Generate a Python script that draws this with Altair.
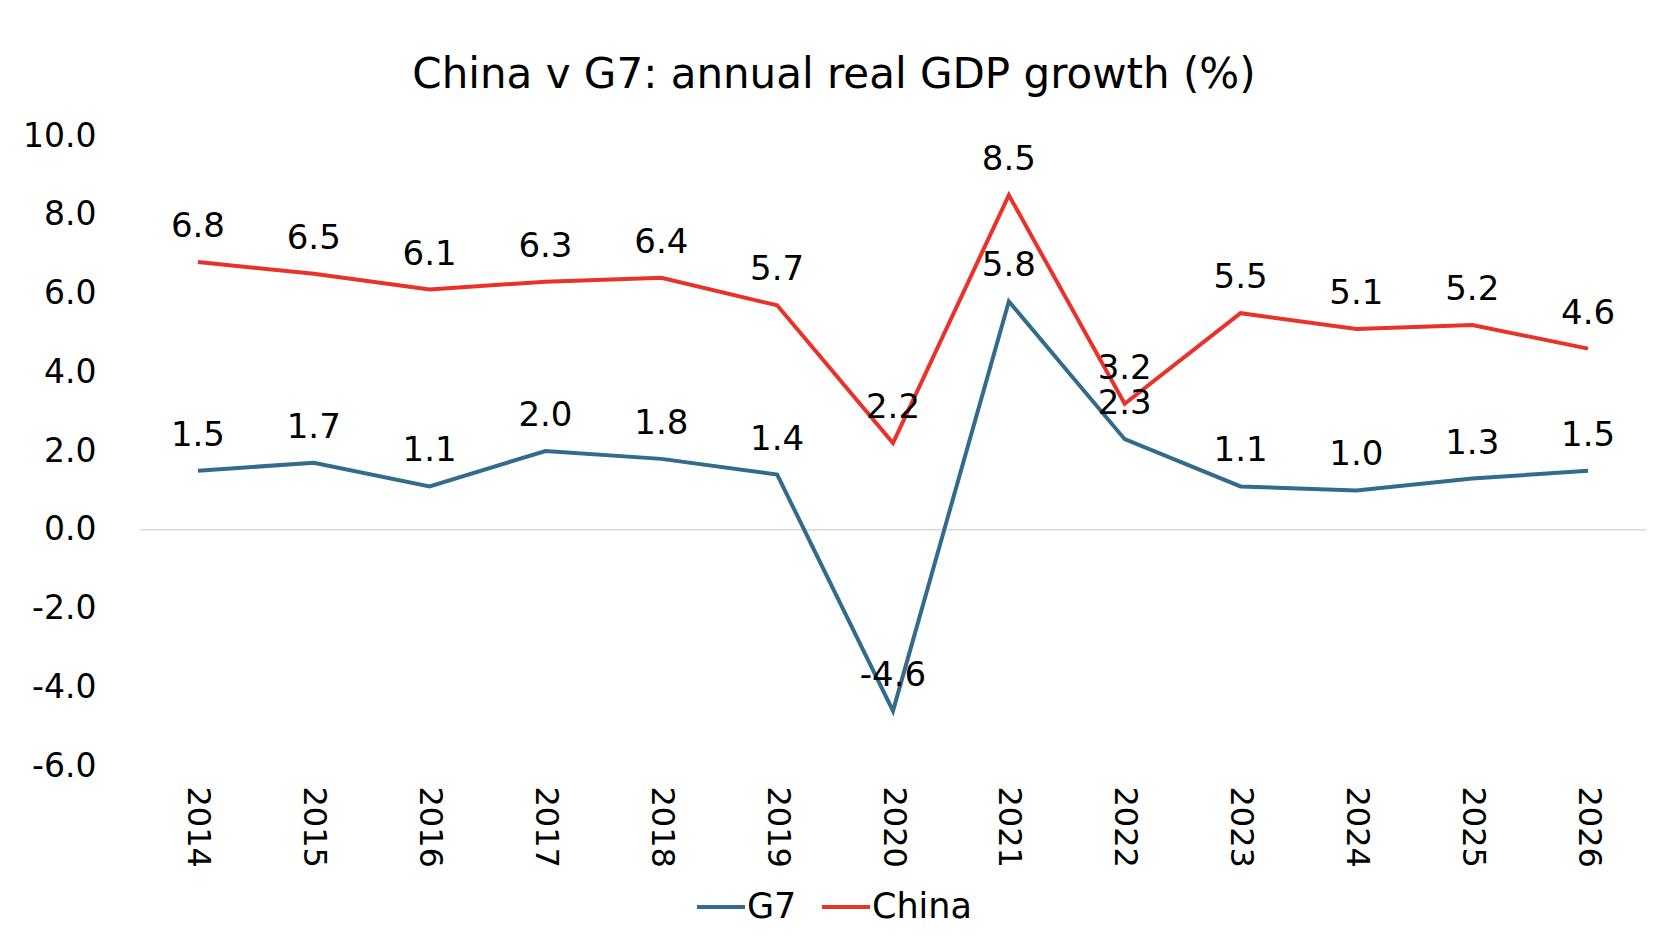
import altair as alt
import pandas as pd

years = [str(y) for y in range(2014, 2027)]
g7 = [1.5, 1.7, 1.1, 2.0, 1.8, 1.4, -4.6, 5.8, 2.3, 1.1, 1.0, 1.3, 1.5]
china = [6.8, 6.5, 6.1, 6.3, 6.4, 5.7, 2.2, 8.5, 3.2, 5.5, 5.1, 5.2, 4.6]
series_names = ["G7", "China"]
series_colors = ["#336B8C", "#E8322A"]
y_ticks = [-6, -4, -2, 0, 2, 4, 6, 8, 10]

rows = []
for i, yr in enumerate(years):
    rows.append({"year": yr, "series": "G7", "value": g7[i]})
    rows.append({"year": yr, "series": "China", "value": china[i]})
df = pd.DataFrame(rows)

FONT = "DejaVu Sans"
MINUS_FIX = "replace(format(datum.value, '.1f'), '\u2212', '-')"

x_enc = alt.X("year:O", scale=alt.Scale(padding=0.5),
              axis=alt.Axis(title=None, labelAngle=90, labelFontSize=32, labelFont=FONT,
                            labelColor="#000000", labelPadding=20, domain=False, ticks=False,
                            grid=False))
y_enc = alt.Y("value:Q", scale=alt.Scale(domain=[-6, 10], nice=False, zero=False),
              axis=alt.Axis(title=None, values=y_ticks, labelExpr=MINUS_FIX, labelFontSize=33,
                            labelFont=FONT, labelColor="#000000", labelPadding=44,
                            domain=False, ticks=False, grid=False))
color_enc = alt.Color("series:N",
                      scale=alt.Scale(domain=series_names, range=series_colors),
                      legend=alt.Legend(title=None, orient="none", direction="horizontal",
                                        legendX=555, legendY=745, symbolType="stroke",
                                        symbolSize=2304, symbolStrokeWidth=4,
                                        labelFontSize=35, labelFont=FONT, labelColor="#000000",
                                        columnPadding=17, labelOffset=0))

base = alt.Chart(df)

zero = alt.Chart(pd.DataFrame({"z": [0]})).mark_rule(color="#D9D9D9", strokeWidth=1.5).encode(
    y=alt.Y("z:Q", scale=alt.Scale(domain=[-6, 10], nice=False, zero=False)))

lines = base.mark_line(strokeWidth=4).encode(x=x_enc, y=y_enc, color=color_enc)
labels = base.transform_calculate(label=MINUS_FIX).mark_text(
    fontSize=34, font=FONT, color="#000000", dy=-25, baseline="alphabetic").encode(
    x="year:O", y="value:Q", text="label:N")

chart = alt.layer(zero, lines, labels).properties(
    width=1506, height=630,
    title=alt.TitleParams("China v G7: annual real GDP growth (%)", fontSize=42, font=FONT,
                          fontWeight="normal", color="#000000", offset=23, dx=-59),
    autosize=alt.AutoSizeParams(type="none"),
    padding={"left": 132, "top": 128, "right": 2, "bottom": 166},
).configure_view(stroke=None)

chart.save("out.html", embed_options={"renderer": "svg", "actions": False})
